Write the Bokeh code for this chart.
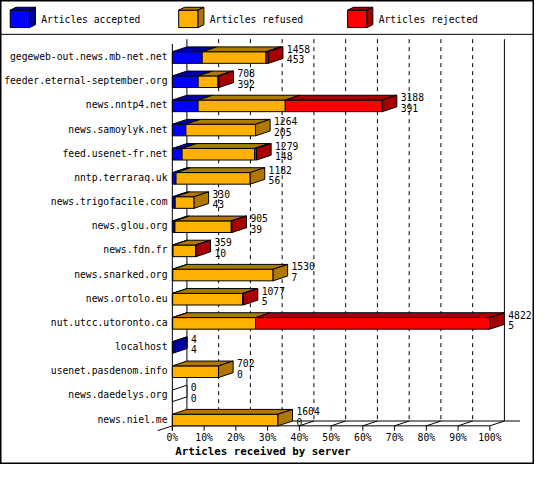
from bokeh.core.properties import value
from bokeh.embed import file_html
from bokeh.models import Range1d
from bokeh.plotting import figure
from bokeh.resources import INLINE

servers = [
    "gegeweb-out.news.mb-net.net", "feeder.eternal-september.org", "news.nntp4.net",
    "news.samoylyk.net", "feed.usenet-fr.net", "nntp.terraraq.uk", "news.trigofacile.com",
    "news.glou.org", "news.fdn.fr", "news.snarked.org", "news.ortolo.eu",
    "nut.utcc.utoronto.ca", "localhost", "usenet.pasdenom.info", "news.daedelys.org",
    "news.niel.me",
]
total = [1458, 708, 3188, 1264, 1279, 1182, 330, 905, 359, 1530, 1077, 4822, 4, 702, 0, 1604]
accepted = [453, 392, 391, 205, 148, 56, 43, 39, 10, 7, 5, 5, 4, 0, 0, 0]
refused = [970, 301, 1324, 1059, 1101, 1126, 287, 856, 344, 1523, 1062, 1259, 0, 702, 0, 1604]
rejected = [35, 15, 1473, 0, 30, 0, 0, 10, 5, 0, 10, 3558, 0, 0, 0, 0]

series = ["Articles accepted", "Articles refused", "Articles rejected"]
front_colors = ["#0000ff", "#ffb000", "#ff0000"]
side_colors = ["#0000a0", "#b07800", "#a80000"]
pct_ticks = [0, 10, 20, 30, 40, 50, 60, 70, 80, 90, 100]

FONT = value("DejaVu Sans Mono")
FS = value("9.7px")

# the original image is 550x480, drawn here at 534x464 so it fits the page
vmax = max(total)
K = vmax / 327.0          # articles per original pixel
DX = 15 * K               # 3d depth along x
DY = 0.2                  # 3d depth along y (rows)
FACE = 0.48               # front face height (rows)
n = len(servers)


def px_x(px):
    return (px - 177) * K


def px_y(py):
    return (py - 52.5) / 25.0


p = figure(width=534, height=464, title=None,
           x_range=Range1d(px_x(0), px_x(550)), y_range=Range1d(px_y(480), px_y(0)),
           x_axis_location=None, y_axis_location=None,
           output_backend="svg", toolbar_location=None, tools="", min_border=0)
p.grid.visible = False
p.outline_line_color = "black"
p.outline_line_width = 2
p.background_fill_color = "white"

floor_front = n - 0.5
floor_back = floor_front - DY
wall_top = px_y(40)

# back wall
gx = [vmax * t / 100 + DX for t in pct_ticks[1:-1]]
p.segment(x0=gx, y0=[wall_top] * len(gx), x1=gx, y1=[floor_back] * len(gx),
          line_color="black", line_width=1, line_dash="4 4")
p.segment(x0=[DX, vmax + DX], y0=[wall_top] * 2, x1=[DX, vmax + DX], y1=[floor_back] * 2,
          line_color="black", line_width=1)

# floor and front axis
tx = [vmax * t / 100 for t in pct_ticks]
p.segment(x0=[DX, 0, vmax, -DX, 0], y0=[floor_back, floor_front, floor_front, floor_front + DY, px_y(45)],
          x1=[px_x(535), vmax, vmax + DX, 0, 0], y1=[floor_back, floor_front, floor_back, floor_front, floor_front + DY],
          line_color="black", line_width=1)
p.segment(x0=tx[1:-1], y0=[floor_front] * 9, x1=[x + DX for x in tx[1:-1]], y1=[floor_back] * 9,
          line_color="black", line_width=1)
p.segment(x0=tx, y0=[floor_front] * len(tx), x1=tx, y1=[floor_front + DY] * len(tx),
          line_color="black", line_width=1)

# 3d stacked bars
segs = [accepted, refused, rejected]
fl, fr, fb, ft, fc = [], [], [], [], []
top_xs, top_ys, top_c = [], [], []
side_xs, side_ys, side_c = [], [], []
for i in range(n):
    bottom = i + 0.5
    top = bottom - FACE
    left = 0
    last = None
    for s in range(3):
        w = segs[s][i]
        if w == 0:
            continue
        right = left + w
        fl.append(left); fr.append(right); fb.append(bottom); ft.append(top); fc.append(front_colors[s])
        top_xs.append([left, right, right + DX, left + DX])
        top_ys.append([top, top, top - DY, top - DY])
        top_c.append(side_colors[s])
        left = right
        last = s
    side_xs.append([left, left + DX, left + DX, left])
    side_ys.append([top, top - DY, bottom - DY, bottom])
    side_c.append("white" if last is None else side_colors[last])

p.quad(left=fl, right=fr, bottom=fb, top=ft, fill_color=fc, line_color="black", line_width=1)
p.patches(xs=top_xs, ys=top_ys, fill_color=top_c, line_color="black", line_width=1)
p.patches(xs=side_xs, ys=side_ys, fill_color=side_c, line_color="black", line_width=1)

# value labels: total and accepted
lx = [t + DX + 4 * K for t in total]
p.text(x=lx, y=[i - 0.1 for i in range(n)], text=[str(t) for t in total],
       text_font=FONT, text_font_size=FS, text_baseline="middle", text_color="black")
p.text(x=lx, y=[i + 0.34 for i in range(n)], text=[str(a) for a in accepted],
       text_font=FONT, text_font_size=FS, text_baseline="middle", text_color="black")

# server names
p.text(x=[px_x(172)] * n, y=[i + 0.22 for i in range(n)], text=servers,
       text_font=FONT, text_font_size=FS, text_align="right", text_baseline="middle",
       text_color="black")

# percent labels and axis title
p.text(x=tx, y=[px_y(452)] * len(tx), text=[f"{t}%" for t in pct_ticks],
       text_font=FONT, text_font_size=FS, text_align="center", text_baseline="middle")
p.text(x=[px_x(180)], y=[px_y(467)], text=["Articles received by server"],
       text_font=FONT, text_font_size=value("10.8px"), text_font_style="bold",
       text_baseline="middle")

# legend strip
p.segment(x0=[px_x(0)], y0=[px_y(35)], x1=[px_x(550)], y1=[px_y(35)], line_color="black", line_width=1)
leg_x = [10, 183.5, 357.5]
lg_l, lg_r, lg_xs, lg_ys, lg_sx, lg_sy = [], [], [], [], [], []
cdx, cdy = 6 * K, 3 / 25.0
cb, ct = px_y(28), px_y(10)
for x0 in leg_x:
    l, r = px_x(x0), px_x(x0 + 20)
    lg_l.append(l); lg_r.append(r)
    lg_xs.append([l, r, r + cdx, l + cdx]); lg_ys.append([ct, ct, ct - cdy, ct - cdy])
    lg_sx.append([r, r + cdx, r + cdx, r]); lg_sy.append([ct, ct - cdy, cb - cdy, cb])
p.quad(left=lg_l, right=lg_r, bottom=[cb] * 3, top=[ct] * 3, fill_color=front_colors,
       line_color="black", line_width=1)
p.patches(xs=lg_xs, ys=lg_ys, fill_color=side_colors, line_color="black", line_width=1)
p.patches(xs=lg_sx, ys=lg_sy, fill_color=side_colors, line_color="black", line_width=1)
p.text(x=[px_x(x0 + 32) for x0 in leg_x], y=[px_y(20)] * 3, text=series,
       text_font=FONT, text_font_size=FS, text_baseline="middle", text_color="black")

open("out.html", "w").write(file_html(p, INLINE))
